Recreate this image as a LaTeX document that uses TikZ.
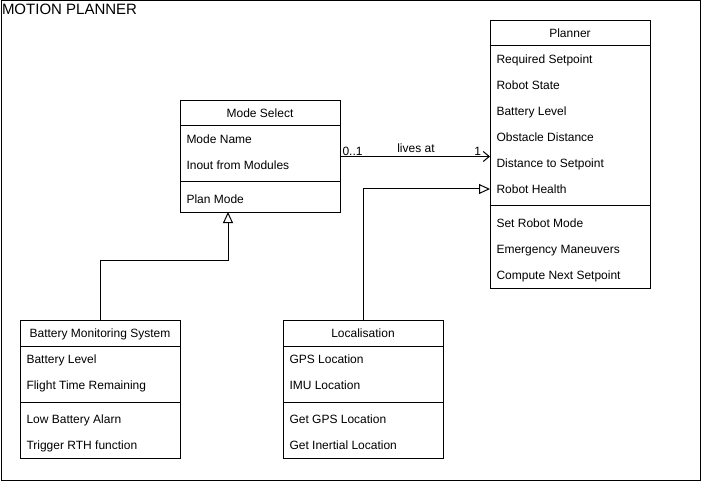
\documentclass[tikz,border=0pt]{standalone}
\usepackage{fontspec}
\setmainfont{Liberation Sans}
\usetikzlibrary{arrows.meta}
\newcommand\ClassBox[5]{%
  \node[classbox, minimum height=#4pt] (#1) at (#2,#3) {};
  \node[hdr] (#1-title) at (#2+80,#3+13) {#5};
  \draw (#2,#3+26) -- (#2+160,#3+26);
}
\begin{document}
\begin{tikzpicture}[x=1pt,y=-1pt,line width=1pt,
  classbox/.style={draw, fill=white, minimum width=160pt, inner sep=0pt, anchor=north west},
  hdr/.style={anchor=base, yshift=-4.8pt, inner sep=0pt, font=\fontsize{12}{14}\selectfont},
  item/.style={anchor=base west, yshift=-4.8pt, inner sep=0pt, font=\fontsize{12}{14}\selectfont},
  lbl/.style={inner sep=0pt, font=\fontsize{12}{14}\selectfont},
  inherit/.style={-{Triangle[open,length=11pt,width=10pt]}},
  assoc/.style={-{Straight Barb[length=6pt,width=10pt]}}]
\useasboundingbox (0,0) rectangle (701,481);
\node[draw, anchor=north west, minimum width=699.5pt, minimum height=479.5pt, inner sep=0pt] (frame) at (0.5,0.5) {};
\node[anchor=base west, inner sep=0pt, font=\fontsize{15}{17}\selectfont] (title) at (1.5,15) {MOTION PLANNER};

% Planner
\ClassBox{planner}{490}{20}{268}{Planner}
\node[item] (p1) at (496,59) {Required Setpoint};
\node[item] (p2) at (496,85) {Robot State};
\node[item] (p3) at (496,111) {Battery Level};
\node[item] (p4) at (496,137) {Obstacle Distance};
\node[item] (p5) at (496,163) {Distance to Setpoint};
\node[item] (p6) at (496,189) {Robot Health};
\draw (490,206) -- (650,206);
\node[item] (p7) at (496,223) {Set Robot Mode};
\node[item] (p8) at (496,249) {Emergency Maneuvers};
\node[item] (p9) at (496,275) {Compute Next Setpoint};

% Mode Select
\ClassBox{mode}{180}{100}{112}{Mode Select}
\node[item] (m1) at (186,139) {Mode Name};
\node[item] (m2) at (186,165) {Inout from Modules};
\draw (180,182) -- (340,182);
\node[item] (m3) at (186,199) {Plan Mode};

% Battery Monitoring System
\ClassBox{batt}{20}{320}{138}{Battery Monitoring System}
\node[item] (b1) at (26,359) {Battery Level};
\node[item] (b2) at (26,385) {Flight Time Remaining};
\draw (20,402) -- (180,402);
\node[item] (b3) at (26,419) {Low Battery Alarn};
\node[item] (b4) at (26,445) {Trigger RTH function};

% Localisation
\ClassBox{loc}{283}{320}{138}{Localisation}
\node[item] (l1) at (289,359) {GPS Location};
\node[item] (l2) at (289,385) {IMU Location};
\draw (283,402) -- (443,402);
\node[item] (l3) at (289,419) {Get GPS Location};
\node[item] (l4) at (289,445) {Get Inertial Location};

% connectors
\coordinate (modeTarget) at (228,212);
\coordinate (planTarget) at (490,189);
\draw[assoc] (mode.east) -- (mode.east -| planner.west);
\node[lbl, anchor=base west] (mult1) at (342,156) {0..1};
\node[lbl, anchor=base east] (mult2) at (481.5,156) {1};
\node[lbl, anchor=base] (livesat) at (416,153) {lives at};
\draw[inherit] (batt.north) -- ++(0,-60) -| (modeTarget);
\draw[inherit] (loc.north) |- (planTarget);
\end{tikzpicture}
\end{document}
